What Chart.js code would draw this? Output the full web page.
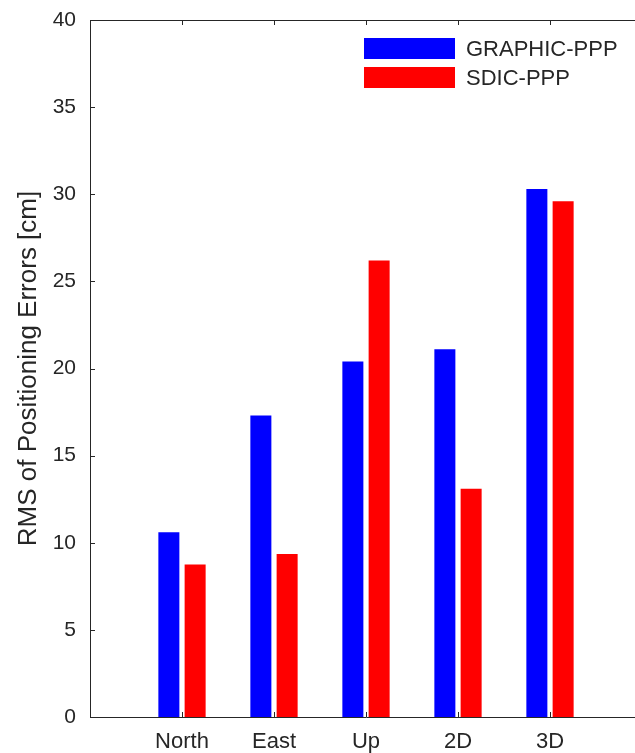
<!DOCTYPE html>
<html>
<head>
<meta charset="utf-8">
<script src="https://cdn.jsdelivr.net/npm/chart.js@4.4.1/dist/chart.umd.min.js"></script>
<style>
  html, body { margin: 0; padding: 0; background: #fff; overflow: hidden; }
  #wrap { width: 650px; height: 753px; }
</style>
</head>
<body>
<div id="wrap"><canvas id="rmsChart"></canvas></div>
<script>
var categories = ["North", "East", "Up", "2D", "3D"];
var graphicPPP = [10.6, 17.3, 20.4, 21.1, 30.3];
var sdicPPP = [8.75, 9.35, 26.2, 13.1, 29.6];
var seriesNames = ["GRAPHIC-PPP", "SDIC-PPP"];
var yTicks = [0, 5, 10, 15, 20, 25, 30, 35, 40];

var axisColor = '#262626';
var fontFamily = "'Liberation Sans', Arial, Helvetica, sans-serif";

function points(values) {
  return values.map(function (v, i) { return { x: i + 1, y: v }; });
}

// matlab-like box: top/right edges and small inward tick marks
var boxTicks = {
  id: 'boxTicks',
  afterDatasetsDraw: function (chart) {
    var ctx = chart.ctx, a = chart.chartArea;
    var xs = chart.scales.x, ys = chart.scales.y;
    var len = 5;
    ctx.save();
    ctx.strokeStyle = axisColor;
    ctx.lineWidth = 1;
    ctx.beginPath();
    ctx.moveTo(a.left, a.top + 0.5);
    ctx.lineTo(a.right + 0.5, a.top + 0.5);
    ctx.lineTo(a.right + 0.5, a.bottom);
    xs.ticks.forEach(function (t) {
      var px = Math.round(xs.getPixelForValue(t.value)) + 0.5;
      ctx.moveTo(px, a.bottom);
      ctx.lineTo(px, a.bottom - len);
      ctx.moveTo(px, a.top);
      ctx.lineTo(px, a.top + len);
    });
    ys.ticks.forEach(function (t) {
      var py = Math.round(ys.getPixelForValue(t.value)) + 0.5;
      ctx.moveTo(a.left, py);
      ctx.lineTo(a.left + len, py);
      ctx.moveTo(a.right, py);
      ctx.lineTo(a.right - len, py);
    });
    ctx.stroke();
    ctx.restore();
  }
};

// legend drawn inside the axes, upper right
var insideLegend = {
  id: 'insideLegend',
  afterDraw: function (chart, args, opts) {
    var ctx = chart.ctx, a = chart.chartArea;
    var x0 = a.left + opts.fromLeft;
    var y0 = a.top + opts.fromTop;
    ctx.save();
    ctx.font = opts.fontSize + 'px ' + fontFamily;
    ctx.textBaseline = 'middle';
    ctx.textAlign = 'left';
    chart.data.datasets.forEach(function (ds, i) {
      var y = y0 + i * opts.rowHeight;
      ctx.fillStyle = ds.backgroundColor;
      ctx.fillRect(x0, y, opts.boxWidth, opts.boxHeight);
      ctx.fillStyle = axisColor;
      ctx.fillText(ds.label, x0 + opts.boxWidth + opts.gap, y + opts.boxHeight / 2 + 1);
    });
    ctx.restore();
  }
};

var ctx = document.getElementById("rmsChart");

new Chart(ctx, {
  type: 'bar',
  data: {
    datasets: [{
      label: seriesNames[0],
      data: points(graphicPPP),
      backgroundColor: '#0000ff',
      borderWidth: 0
    }, {
      label: seriesNames[1],
      data: points(sdicPPP),
      backgroundColor: '#ff0000',
      borderWidth: 0
    }]
  },
  options: {
    responsive: true,
    maintainAspectRatio: false,
    animation: false,
    datasets: {
      bar: { categoryPercentage: 0.571, barPercentage: 0.8 }
    },
    layout: { padding: { top: 20, right: 8, left: 0, bottom: 0 } },
    plugins: {
      legend: { display: false },
      tooltip: { enabled: false },
      insideLegend: {
        fromLeft: 274, fromTop: 18, boxWidth: 91, boxHeight: 21,
        rowHeight: 29, gap: 11, fontSize: 22
      }
    },
    scales: {
      x: {
        type: 'linear',
        offset: false,
        min: 0,
        max: categories.length + 1,
        grid: { display: false, drawTicks: false },
        border: { display: true, color: axisColor, width: 1 },
        afterBuildTicks: function (scale) {
          scale.ticks = categories.map(function (c, i) { return { value: i + 1 }; });
        },
        afterFit: function (scale) {
          scale.height = 36;
          scale.paddingLeft = 0;
          scale.paddingRight = 0;
        },
        ticks: {
          color: axisColor,
          padding: 12,
          maxRotation: 0,
          font: { family: fontFamily, size: 22 },
          callback: function (value) { return categories[value - 1] || ''; }
        }
      },
      y: {
        min: 0,
        max: 40,
        afterBuildTicks: function (scale) {
          scale.ticks = yTicks.map(function (v) { return { value: v }; });
        },
        afterFit: function (scale) {
          scale.width = 90;
          scale.paddingTop = 0;
          scale.paddingBottom = 0;
        },
        grid: { display: false, drawTicks: false },
        border: { display: true, color: axisColor, width: 1 },
        ticks: {
          color: axisColor,
          padding: 14,
          font: { family: fontFamily, size: 21 }
        },
        title: {
          display: true,
          text: 'RMS of Positioning Errors [cm]',
          color: axisColor,
          padding: { top: 13, bottom: 0 },
          font: { family: fontFamily, size: 26 }
        }
      }
    }
  },
  plugins: [boxTicks, insideLegend]
});
</script>
</body>
</html>
